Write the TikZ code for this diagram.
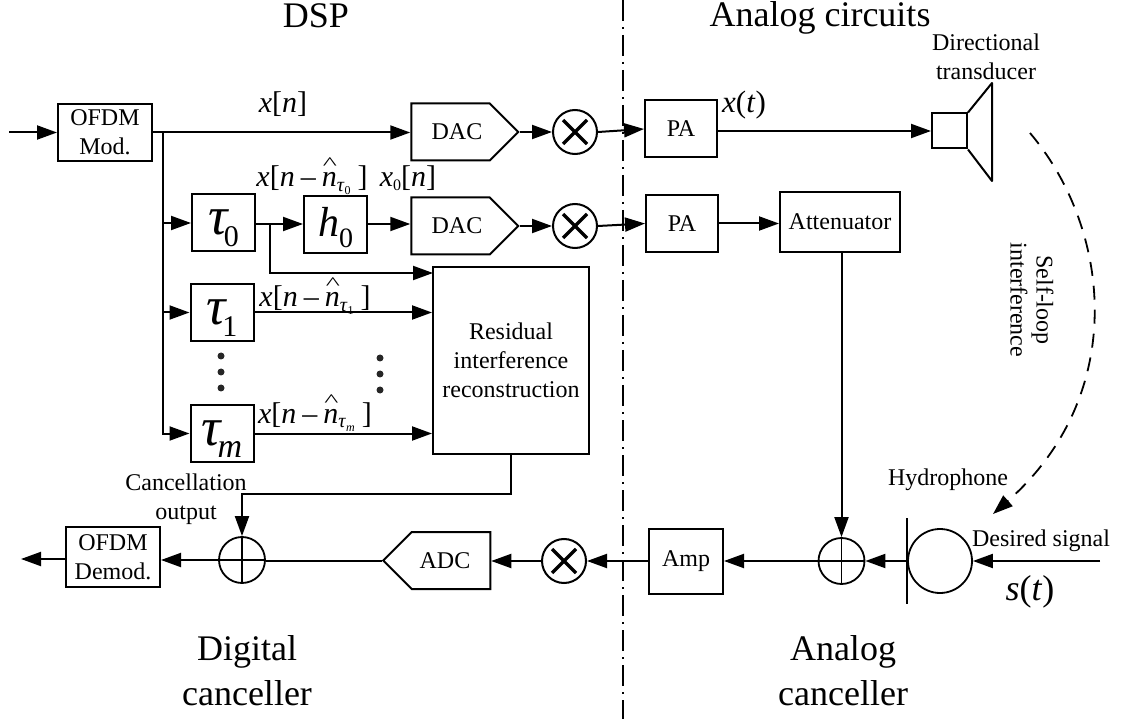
\documentclass[tikz,border=0pt]{standalone}
\usepackage{fontspec}
\setmainfont{Liberation Serif}
\usepackage{tikz}
\usetikzlibrary{arrows.meta, shapes.symbols}

\newcommand{\fs}[1]{\fontsize{#1}{#1}\selectfont}
\newcommand{\hatn}{\rlap{\raisebox{17pt}{\hspace{1pt}\scalebox{1}[0.6]{\^{}}}}\textit{n}}
\newcommand{\delayed}[1]{\textit{x}[\textit{n}\hspace{6pt}--\hspace{6pt}\hatn\raisebox{-5pt}{\fs{20}\textit{τ}\raisebox{-3pt}{\fs{12}#1}}\hspace{7pt}]}
\newcommand{\delay}[3]{\fs{54}\textit{τ}\hspace{-5pt}\raisebox{#3}{\fs{#2}#1}}

\tikzset{
    block/.style={draw, rectangle, line width=2pt, inner sep=0pt, align=center, font=\fs{24}},
    delaybox/.style={block, minimum width=63pt, minimum height=57pt, text height=29pt, text depth=5pt},
    converter/.style={draw, signal, signal from=nowhere, line width=2pt, inner sep=0pt, minimum width=107pt, minimum height=57pt},
    adder/.style={draw, circle, line width=1.8pt, inner sep=0pt, minimum size=46pt,
        path picture={\draw[line width=1.8pt] (path picture bounding box.north) -- (path picture bounding box.south)
            (path picture bounding box.west) -- (path picture bounding box.east);}},
    mixer/.style={draw, circle, line width=2pt, inner sep=0pt, minimum size=44pt,
        path picture={\draw[line width=3.2pt] ([shift={(-12pt,-12pt)}]path picture bounding box.center) -- ([shift={(12pt,12pt)}]path picture bounding box.center)
            ([shift={(-12pt,12pt)}]path picture bounding box.center) -- ([shift={(12pt,-12pt)}]path picture bounding box.center);}},
    sig/.style={line width=2pt, -{Triangle[length=20pt,width=14pt]}},
    wire/.style={line width=2pt},
    caption/.style={font=\fs{24}, align=center, inner sep=0pt},
    heading/.style={font=\fs{36}, align=center, inner sep=0pt},
    formula/.style={font=\fs{30}, inner sep=0pt, anchor=base},
    dot/.style={circle, fill=black!85, inner sep=0pt, minimum size=7pt}
}

\begin{document}
\begin{tikzpicture}[x=1pt, y=-1pt, line width=2pt]
    \useasboundingbox (0,0) rectangle (1125,719);

    \coordinate (top) at (623,0);
    \coordinate (bottom) at (623,719);
    \draw[line width=1.6pt, dash pattern=on 21pt off 6pt on 2pt off 6pt] (top) -- (bottom);

    \node[heading, anchor=base] (dsp) at (316,28) {DSP};
    \node[heading, anchor=base] (analog) at (820,27) {Analog circuits};
    \node[heading] (digcanc) at (247,671) {Digital\\[9pt]canceller};
    \node[heading] (anacanc) at (843,671) {Analog\\[9pt]canceller};

    \coordinate (in) at (9,132.5);
    \node[block, minimum width=94pt, minimum height=57pt] (mod) at (105,132.5) {OFDM\\[5pt]Mod.};
    \node[converter, signal to=east, label={[xshift=6.5pt, font=\fs{24}]center:DAC}] (dac1) at (450.5,132) {};
    \node[mixer] (mix1) at (575,132) {};
    \node[block, minimum width=72pt, minimum height=57pt] (pa1) at (681,129) {PA};
    \node[block, minimum width=35pt, minimum height=35pt] (trans) at (949.5,131) {};
    \coordinate (cone1) at (992,83);
    \coordinate (cone2) at (992,181);
    \draw[line join=round] (trans.north east) -- (cone1) -- (cone2) -- (trans.south east);

    \node[delaybox] (tau0) at (223.5,223) {\delay{0}{30}{-12pt}};
    \node[delaybox] (h0) at (335.5,224.5) {\fs{42}\textit{h}\raisebox{-11pt}{\fs{28}0}};
    \node[converter, signal to=east, label={[xshift=6.5pt, font=\fs{24}]center:DAC}] (dac2) at (450.5,226) {};
    \node[mixer] (mix2) at (575,226) {};
    \node[block, minimum width=72pt, minimum height=57pt] (pa2) at (682,223.5) {PA};
    \node[block, minimum width=120pt, minimum height=60pt] (atten) at (840,222) {Attenuator};

    \node[delaybox] (tau1) at (222,312.5) {\delay{1}{30}{-12pt}};
    \node[delaybox] (taum) at (222,433.5) {\delay{\textit{m}}{34}{-12pt}};
    \node[block, minimum width=156pt, minimum height=187pt] (recon) at (511,360.5) {Residual\\[5pt]interference\\[5pt]reconstruction};

    \node[block, minimum width=94pt, minimum height=60pt] (demod) at (113,557) {OFDM\\[5pt]Demod.};
    \node[adder] (sum2) at (242,560) {};
    \node[converter, signal to=west, label={[xshift=-6pt, font=\fs{24}]center:ADC}] (adc) at (451,560.5) {};
    \node[mixer] (mix3) at (564,561) {};
    \node[block, minimum width=74pt, minimum height=65pt] (amp) at (686,561) {Amp};
    \node[adder] (sum1) at (841.5,561) {};
    \node[draw, circle, line width=1.8pt, inner sep=0pt, minimum size=64pt] (hydro) at (940,561) {};
    \coordinate (hydrotop) at (907,518);
    \coordinate (hydrobot) at (907,604);
    \coordinate (hydroleft) at (907,561);
    \coordinate (insig) at (1100,561);
    \coordinate (outsig) at (21,559);
    \draw (hydrotop) -- (hydrobot);

    \draw[sig] (in) -- (mod.west);
    \draw[sig] (mod.east) -- (mod.east -| dac1.west);
    \draw[sig] (dac1.east) -- (mix1.west);
    \draw[sig] (mix1.east) -- (pa1.west);
    \draw[sig] (pa1.east |- trans) -- (trans.west);

    \coordinate (trunk) at (162.5,132.5);
    \draw[sig] (trunk) |- (taum.west);
    \draw[sig] (trunk |- tau0) -- (tau0.west);
    \draw[sig] (trunk |- tau1) -- (tau1.west);

    \coordinate (tap) at (270,224);
    \coordinate (reconin) at (433,273);
    \coordinate (bend) at (242,494);
    \draw[sig] (tau0.east |- tap) -- (h0.west |- tap);
    \draw[sig] (h0.east |- tap) -- (dac2.west |- tap);
    \draw[sig] (dac2.east) -- (mix2.west);
    \draw[sig] (mix2.east) -- (pa2.west);
    \draw[sig] (pa2.east) -- (pa2.east -| atten.west);
    \draw[sig] (tap) |- (reconin);
    \draw[sig] (tau1.east) -- (tau1.east -| recon.west);
    \draw[sig] (taum.east) -- (taum.east -| recon.west);

    \draw[sig] (recon.south) |- (bend) -- (sum2.north);
    \draw[sig] (atten.south -| sum1) -- (sum1.north);
    \draw[sig] (insig) -- (hydro.east);
    \draw[sig] (hydroleft) -- (sum1.east);
    \draw[sig] (sum1.west) -- (amp.east);
    \draw[sig] (amp.west) -- (mix3.east);
    \draw[sig] (mix3.west) -- (mix3.west -| adc.east);
    \draw[wire] (adc.west) -- (adc.west -| sum2.east);
    \draw[sig] (sum2.west) -- (sum2.west -| demod.east);
    \draw[sig] (demod.west |- outsig) -- (outsig);

    \coordinate (loopstart) at (1030,133);
    \coordinate (loopend) at (993,514);
    \draw[sig, line width=1.8pt, dash pattern=on 14pt off 10pt] (loopstart) .. controls (1112,230) and (1128,395) .. (loopend);

    \node[formula] (xn) at (283,113) {\textit{x}[\textit{n}]};
    \node[formula] (xtau0) at (312,187) {\delayed{0}};
    \node[formula] (x0n) at (408,187) {\textit{x}\raisebox{-4pt}{\fs{16}0}[\textit{n}]};
    \node[formula] (xtau1) at (315,307) {\delayed{1}};
    \node[formula] (xtaum) at (315,423) {\delayed{\textit{m}}};
    \node[formula, font=\fs{31}] (xt) at (744,113) {\textit{x}(\textit{t})};
    \node[formula, font=\fs{36}] (st) at (1030,600) {\textit{s}(\textit{t})};

    \node[caption] (dirtrans) at (986,57) {Directional\\[5.5pt]transducer};
    \node[caption] (cancout) at (186,499) {Cancellation\\[5.5pt]output};
    \node[caption] (hydrotext) at (948,480) {Hydrophone};
    \node[caption] (desired) at (1041,541) {Desired signal};
    \node[caption, rotate=-90] (selfloop) at (1032,300) {Self-loop\\[2pt]interference};

    \node[dot] (d1) at (221,356) {};
    \node[dot] (d2) at (221,372) {};
    \node[dot] (d3) at (221,388) {};
    \node[dot] (d4) at (380,358) {};
    \node[dot] (d5) at (380,374) {};
    \node[dot] (d6) at (380,390) {};
\end{tikzpicture}
\end{document}
